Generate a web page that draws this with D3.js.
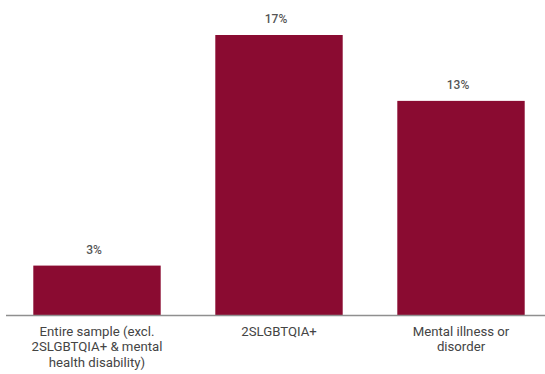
<!DOCTYPE html>
<html>
<head>
<meta charset="utf-8">
<script src="https://cdn.jsdelivr.net/npm/d3@7"></script>
<style>
  html, body { margin: 0; padding: 0; background: #fff; }
  svg { display: block; }
</style>
</head>
<body>
<svg id="chart" width="545" height="374"></svg>
<script>
// Share of respondents by group
const categories = ["Entire sample (excl.|2SLGBTQIA+ & mental|health disability)", "2SLGBTQIA+", "Mental illness or|disorder"];
const values = [3, 17, 13];
const valueLabels = ["3%", "17%", "13%"];

const svg = d3.select("#chart");
const baseline = 315;
const font = "Roboto, 'Noto Sans', sans-serif";

const x = d3.scaleBand()
  .domain(categories)
  .range([6, 552])
  .paddingInner(0.3)
  .paddingOuter(0.15);

const y = d3.scaleLinear()
  .domain([0, 17])
  .range([baseline, 35]);

// Bars
svg.append("g").selectAll("rect")
  .data(values)
  .join("rect")
  .attr("x", (d, i) => x(categories[i]))
  .attr("y", d => y(d))
  .attr("width", x.bandwidth())
  .attr("height", d => baseline - y(d))
  .attr("fill", "#8a0b31");

// Value labels above bars
svg.append("g").selectAll("text")
  .data(values)
  .join("text")
  .attr("x", (d, i) => x(categories[i]) + x.bandwidth() / 2 - 3)
  .attr("y", d => y(d) - 12)
  .attr("text-anchor", "middle")
  .attr("font-family", font)
  .attr("font-size", 12)
  .attr("font-weight", 500)
  .attr("fill", "#555")
  .text((d, i) => valueLabels[i]);

// Baseline axis
const axis = d3.axisBottom(x).tickSize(0).tickFormat("");
const axisG = svg.append("g")
  .attr("transform", `translate(0,${baseline})`)
  .call(axis);
axisG.select(".domain")
  .attr("d", "M6,0.5H545")
  .attr("stroke", "#8f8f8f")
  .attr("stroke-width", 1.5);

// Category labels, one text per line
const catG = svg.append("g");
categories.forEach(c => {
  c.split("|").forEach((ln, j) => {
    catG.append("text")
      .attr("x", x(c) + x.bandwidth() / 2)
      .attr("y", 336 + j * 15.3)
      .attr("text-anchor", "middle")
      .attr("font-family", font)
      .attr("font-size", 13.2)
      .attr("fill", "#444")
      .text(ln);
  });
});
</script>
</body>
</html>
